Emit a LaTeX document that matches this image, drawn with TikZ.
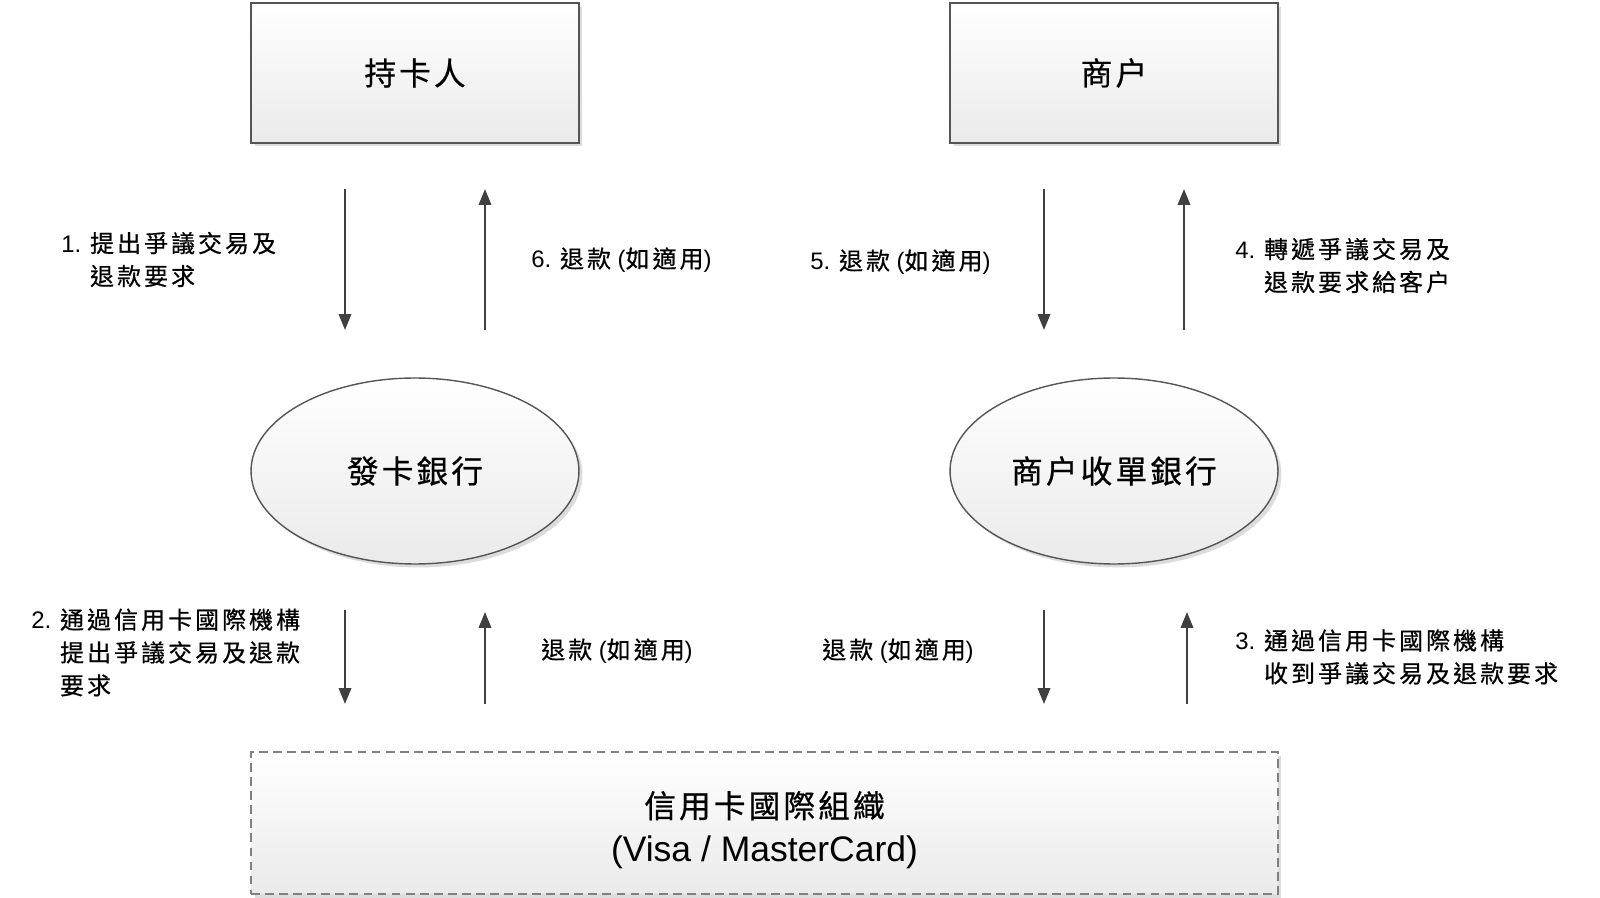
\documentclass[tikz,border=0pt]{standalone}
\usepackage{fontspec}
\setmainfont{Liberation Sans}
\newfontfamily\zhfont{Noto Sans CJK TC}[LetterSpace=10,FakeBold=0.6]
\newfontfamily\zhnotefont{Noto Sans CJK TC}[LetterSpace=13,FakeBold=0.6]
\newcommand\zh[1]{{\zhfont #1}}
\usetikzlibrary{arrows.meta,shadows,shapes.geometric}
\definecolor{edgegray}{HTML}{555555}
\definecolor{arrowgray}{HTML}{404040}
\definecolor{fillgray}{HTML}{EAEAEA}

\begin{document}
\begin{tikzpicture}[x=0.02cm,y=-0.02cm,
  party/.style={draw=edgegray,line width=0.8pt,top color=white,bottom color=fillgray,
    drop shadow={shadow xshift=2pt,shadow yshift=-2pt,fill=black!30,opacity=0.45},
    font=\fontsize{18}{24}\selectfont,align=center},
  box/.style={party,rectangle,minimum width=6.56cm,minimum height=2.8cm},
  bank/.style={party,ellipse,minimum width=6.56cm,minimum height=3.72cm},
  orgbox/.style={box,draw=gray,dash pattern=on 5pt off 3pt,minimum width=20.54cm,minimum height=2.84cm},
  flow/.style={draw=arrowgray,line width=1.3pt,-{Triangle[length=9pt,width=7pt]}},
  note/.style={anchor=west,align=left,inner sep=0pt,
    font=\fontsize{13.6}{18.7}\selectfont\let\zhfont\zhnotefont}]
\useasboundingbox (0,0) rectangle (1600,898);

\node[box] (holder) at (415,73) {\zh{持卡人}};
\node[box] (merchant) at (1114,73) {\zh{商户}};
\node[bank] (issuer) at (415,471) {\zh{發卡銀行}};
\node[bank] (acquirer) at (1114,471) {\zh{商户收單銀行}};
\node[orgbox] (scheme) at (764.5,823) {\rule{0pt}{23pt}\zh{信用卡國際組織}\\[0.9pt]{\fontsize{20.2}{24}\selectfont (Visa / MasterCard)}};

\foreach \n/\x/\ya/\yb in {a1/345/189/330, a6/485/330/189, a5/1044/189/330, a4/1184/330/189,
                          a2/345/610/704, b2/485/704/612, b5/1044/610/704, a3/1187/704/612} {
  \coordinate (\n s) at (\x,\ya);
  \coordinate (\n e) at (\x,\yb);
  \draw[flow] (\n s) -- (\n e);
}

\node[note] (n1) at (61,259.5) {1. \zh{提出爭議交易及}\\\hphantom{1. }\zh{退款要求}};
\node[note] (n6) at (531,260) {6. \zh{退款} (\zh{如適用})};
\node[note] (n5) at (810,262) {5. \zh{退款} (\zh{如適用})};
\node[note] (n4) at (1235,265.5) {4. \zh{轉遞爭議交易及}\\\hphantom{4. }\zh{退款要求給客户}};
\node[note] (n2) at (31,652.5) {2. \zh{通過信用卡國際機構}\\\hphantom{2. }\zh{提出爭議交易及退款}\\\hphantom{2. }\zh{要求}};
\node[note] (r1) at (541,651) {\zh{退款} (\zh{如適用})};
\node[note] (r2) at (822,651) {\zh{退款} (\zh{如適用})};
\node[note] (n3) at (1235,657) {3. \zh{通過信用卡國際機構}\\\hphantom{3. }\zh{收到爭議交易及退款要求}};
\end{tikzpicture}
\end{document}
